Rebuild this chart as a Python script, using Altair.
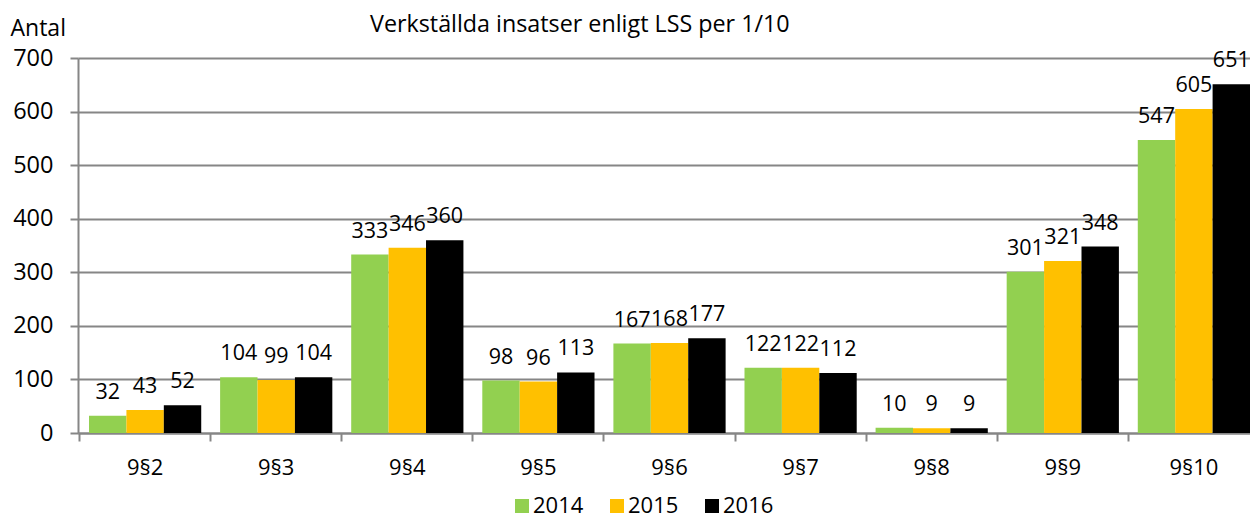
import altair as alt
import pandas as pd

categories = ["9§2", "9§3", "9§4", "9§5", "9§6", "9§7", "9§8", "9§9", "9§10"]
years = ["2014", "2015", "2016"]
v2014 = [32, 104, 333, 98, 167, 122, 10, 301, 547]
v2015 = [43, 99, 346, 96, 168, 122, 9, 321, 605]
v2016 = [52, 104, 360, 113, 177, 112, 9, 348, 651]
colors = ["#92D050", "#FFC000", "#000000"]
title_text = ["Verkställda insatser enligt LSS per 1/10"]

rows = []
for y, vals in zip(years, [v2014, v2015, v2016]):
    for c, v in zip(categories, vals):
        rows.append({"kat": c, "year": y, "value": v})
df = pd.DataFrame(rows)

FONT = "Open Sans"
GRAY = "#868686"

x = alt.X("kat:N", sort=categories, title=None,
          scale=alt.Scale(paddingInner=0.144, paddingOuter=0.042, align=1),
          axis=alt.Axis(labelAngle=0, labelFontSize=22, labelPadding=16, labelColor="#000",
                        bandPosition=-0.084, tickSize=8, tickColor=GRAY, tickWidth=2,
                        domainColor=GRAY, domainWidth=2, grid=False, labelFont=FONT))
y = alt.Y("value:Q", scale=alt.Scale(domain=[0, 700]),
          axis=alt.Axis(values=list(range(0, 701, 100)), labelFontSize=23.5, labelColor="#000",
                        labelFont=FONT, tickSize=8, tickColor=GRAY, tickWidth=2,
                        domainColor=GRAY, domainWidth=2, gridColor=GRAY,
                        gridWidth=2, labelPadding=17,
                        title="Antal", titleAngle=0, titleAlign="left", titleBaseline="alphabetic",
                        titleX=-68, titleY=-23, titleFontSize=23, titleFontWeight="normal",
                        titleFont=FONT, titleColor="#000"))

base = alt.Chart(df).encode(
    x=x,
    xOffset=alt.XOffset("year:N", sort=years),
)

bars = base.mark_bar().encode(
    y=y,
    color=alt.Color("year:N", sort=years,
                    scale=alt.Scale(domain=years, range=colors),
                    legend=alt.Legend(orient="none", direction="horizontal", title=None,
                                      legendX=433, legendY=437, padding=0, symbolType="square",
                                      symbolSize=196, symbolStrokeWidth=0, labelFontSize=22,
                                      labelFont=FONT, labelColor="#000", columnPadding=22,
                                      labelOffset=0)),
)

labels = base.mark_text(fontSize=21.5, font=FONT, baseline="alphabetic", dy=-17, color="#000").encode(
    y="value:Q",
    text="value:Q",
)

title = alt.Chart(pd.DataFrame({"t": title_text})).mark_text(
    fontSize=23.3, font=FONT, align="left", baseline="alphabetic", color="#000"
).encode(x=alt.value(292), y=alt.value(-26), text="t:N")

chart = alt.layer(bars, labels, title).properties(
    width=1172, height=375,
    autosize=alt.AutoSizeParams(type="none"),
    padding={"left": 70, "top": 50, "right": 0, "bottom": 84},
).configure_view(strokeWidth=0)

chart.save("out.html", embed_options={"renderer": "svg", "actions": False})
